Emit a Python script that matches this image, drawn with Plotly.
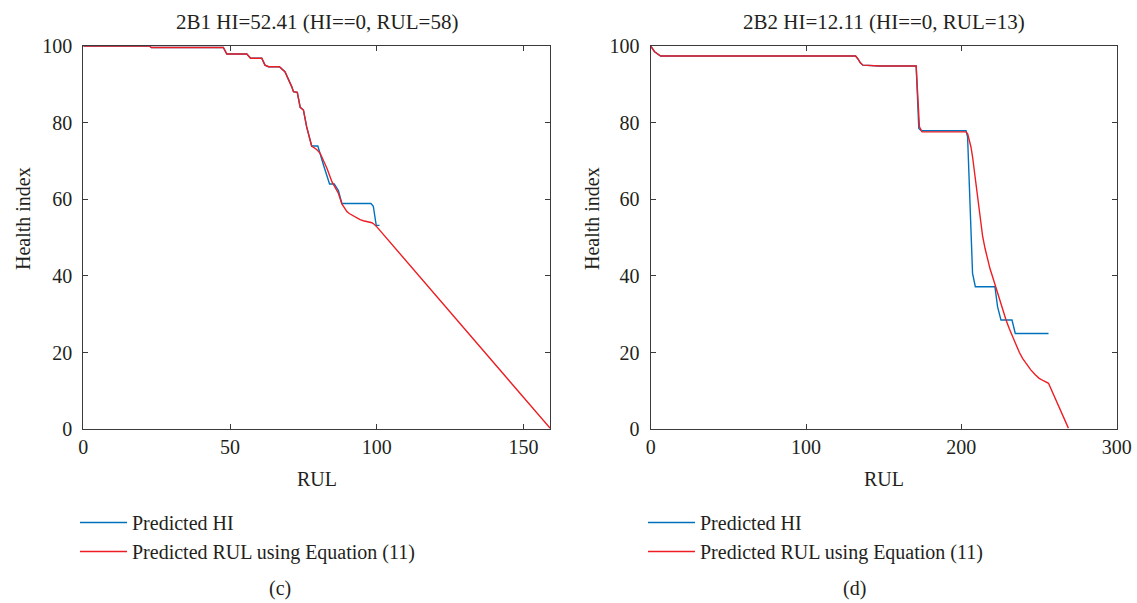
import plotly.graph_objects as go

# ---------------- data: panel (c) 2B1 ----------------
c_hi_x = [0, 22.5, 23.2, 47.7, 48.9, 55.7, 57.0, 60.8, 61.9, 63.1, 66.8, 68.7, 71.0, 71.6, 72.9,
          73.9, 75.0, 76.1, 77.8, 79.9, 81.8, 83.9, 85.5, 86.9, 88.1, 98.0, 98.8, 99.8, 100.9]
c_hi_y = [100, 100, 99.6, 99.6, 97.9, 97.9, 96.8, 96.8, 95.0, 94.6, 94.6, 93.3, 89.4, 88.1, 87.9,
          84.0, 83.3, 78.9, 73.9, 73.9, 69.0, 64.0, 64.0, 62.3, 58.9, 58.9, 58.2, 53.2, 53.2]

c_rul_x = [0, 22.5, 23.2, 47.7, 48.9, 55.7, 57.0, 60.8, 61.9, 63.1, 66.8, 68.7, 71.0, 71.6, 72.9,
           73.9, 75.0, 76.1, 77.8, 79.5, 80.7, 83.0, 84.7, 86.9, 88.1, 89.0, 89.8, 90.6, 91.5,
           92.3, 93.2, 94.3, 95.4, 96.8, 98.3, 99.1, 99.8, 159]
c_rul_y = [100, 100, 99.6, 99.6, 97.9, 97.9, 96.8, 96.8, 95.0, 94.6, 94.6, 93.3, 89.4, 88.1, 87.9,
           84.0, 83.3, 78.9, 73.9, 73.0, 72.0, 68.1, 64.6, 61.6, 58.8, 57.7, 56.8, 56.3, 55.9,
           55.4, 55.0, 54.7, 54.4, 54.2, 53.9, 53.5, 53.0, 0.3]

# ---------------- data: panel (d) 2B2 ----------------
d_hi_x = [0, 2.5, 6.4, 131.9, 133.5, 135.0, 136.6, 147.3, 170.9, 172.6, 174.2, 203.0, 204.0,
          205.1, 206.2, 207.2, 209.0, 221.6, 223.3, 225.5, 232.6, 234.7, 256.1]
d_hi_y = [100, 98.5, 97.4, 97.4, 96.6, 95.6, 95.0, 94.8, 94.8, 78.5, 77.9, 77.9, 76.3,
          65.0, 49.4, 40.7, 37.2, 37.2, 32.0, 28.5, 28.5, 25.0, 25.0]

d_rul_x = [0, 2.5, 6.4, 131.9, 133.5, 135.0, 136.6, 147.3, 170.9, 173.0, 174.7, 203.0, 204.1,
           205.1, 206.2, 207.2, 208.3, 209.4, 210.4, 211.5, 212.6, 213.7, 215.3, 216.9, 218.5,
           220.1, 221.7, 223.3, 224.9, 226.5, 228.7, 230.8, 233.0, 235.1, 237.3, 239.4, 242.0,
           244.7, 247.4, 250.1, 253.1, 256.1, 268.9]
d_rul_y = [100, 98.5, 97.4, 97.4, 96.6, 95.6, 95.0, 94.8, 94.8, 78.9, 77.6, 77.6, 77.0,
           75.5, 73.6, 71.1, 67.5, 63.3, 59.8, 56.4, 53.3, 50.3, 47.1, 44.2, 41.8,
           39.8, 37.6, 35.5, 33.3, 31.1, 28.6, 26.3, 24.1, 22.0, 20.1, 18.5, 16.9,
           15.5, 14.3, 13.3, 12.6, 12.0, 0.3]

titles = ["2B1 HI=52.41 (HI==0, RUL=58)", "2B2 HI=12.11 (HI==0, RUL=13)"]
panel_labels = ["(c)", "(d)"]
x_title = "RUL"
y_title = "Health index"
x_ticks_c = [0, 50, 100, 150]
x_ticks_d = [0, 100, 200, 300]
y_ticks = [0, 20, 40, 60, 80, 100]

BLUE = "#0072BD"
RED = "#EE1D23"
FONT = "Liberation Serif"
TXT = "#231F20"
W, H = 1137, 603

fig = go.Figure()
fig.add_trace(go.Scatter(x=c_hi_x, y=c_hi_y, mode="lines", name="Predicted HI",
                         line=dict(color=BLUE, width=1.4), xaxis="x", yaxis="y", legend="legend"))
fig.add_trace(go.Scatter(x=c_rul_x, y=c_rul_y, mode="lines", name="Predicted RUL using Equation (11)",
                         line=dict(color=RED, width=1.4), xaxis="x", yaxis="y", legend="legend"))
fig.add_trace(go.Scatter(x=d_hi_x, y=d_hi_y, mode="lines", name="Predicted HI",
                         line=dict(color=BLUE, width=1.4), xaxis="x2", yaxis="y2", legend="legend2"))
fig.add_trace(go.Scatter(x=d_rul_x, y=d_rul_y, mode="lines", name="Predicted RUL using Equation (11)",
                         line=dict(color=RED, width=1.4), xaxis="x2", yaxis="y2", legend="legend2"))

ydom = [1 - 429.3 / H, 1 - 46 / H]
xdom1 = [83.3 / W, 550 / W]
xdom2 = [650.7 / W, 1116.7 / W]

axis_common = dict(showline=True, mirror="ticks", ticks="inside", ticklen=5, tickwidth=1,
                   linecolor="#3A3A3A", tickcolor="#3A3A3A", linewidth=1.3,
                   showgrid=False, zeroline=False, automargin=False,
                   tickfont=dict(family=FONT, size=20, color=TXT))


def ann(text, x, y, angle=0, size=20):
    return dict(text=text, x=x / W, y=1 - y / H, xref="paper", yref="paper",
                showarrow=False, xanchor="center", yanchor="middle", textangle=angle,
                font=dict(family=FONT, size=size, color=TXT))


leg_common = dict(xanchor="left", yanchor="top", font=dict(family=FONT, size=20, color=TXT),
                  itemwidth=47, bgcolor="rgba(0,0,0,0)", tracegroupgap=0)

fig.update_layout(
    width=W, height=H,
    margin=dict(l=0, r=0, t=0, b=0),
    paper_bgcolor="white", plot_bgcolor="white",
    font=dict(family=FONT, size=20, color=TXT),
    xaxis=dict(domain=xdom1, range=[0, 159], tickvals=x_ticks_c, anchor="y", **axis_common),
    yaxis=dict(domain=ydom, range=[0, 100], tickvals=y_ticks, anchor="x", ticklabelstandoff=6,
               **axis_common),
    xaxis2=dict(domain=xdom2, range=[0, 300], tickvals=x_ticks_d, anchor="y2", **axis_common),
    yaxis2=dict(domain=ydom, range=[0, 100], tickvals=y_ticks, anchor="x2", ticklabelstandoff=6,
                **axis_common),
    legend=dict(x=75 / W, y=1 - 503 / H, **leg_common),
    legend2=dict(x=643 / W, y=1 - 503 / H, **leg_common),
    annotations=[
        ann(titles[0], 316.7, 22, size=21),
        ann(titles[1], 883.7, 22, size=21),
        ann(x_title, 316.7, 479),
        ann(x_title, 883.7, 479),
        ann(y_title, 23, 219, -90),
        ann(y_title, 592, 219, -90),
        ann(panel_labels[0], 280, 588),
        ann(panel_labels[1], 855, 588),
    ],
)

fig.write_html("out.html")
